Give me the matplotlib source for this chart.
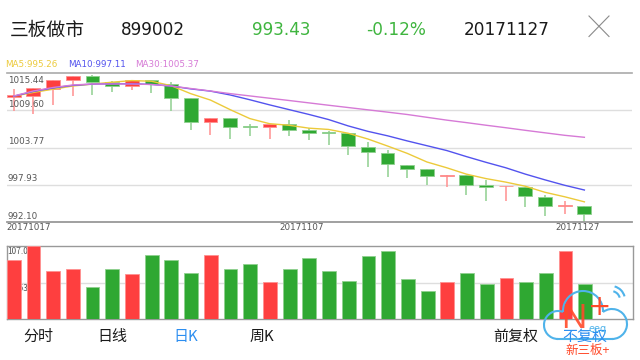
import matplotlib.pyplot as plt
from matplotlib.patches import Arc
import numpy as np

plt.rcParams['font.family'] = ['DejaVu Sans']
CJK = ['Noto Sans CJK SC', 'DejaVu Sans']

# 数据
dates = ['20171017', '20171018', '20171019', '20171020', '20171023', '20171024',
         '20171025', '20171026', '20171027', '20171030', '20171031', '20171101',
         '20171102', '20171103', '20171106', '20171107', '20171108', '20171109',
         '20171110', '20171113', '20171114', '20171115', '20171116', '20171117',
         '20171120', '20171121', '20171122', '20171123', '20171124', '20171127']
opens = [1011.73, 1011.84, 1013.01, 1014.34, 1015.02, 1013.98, 1013.40, 1014.30,
         1013.79, 1011.57, 1007.76, 1008.34, 1007.00, 1006.93, 1007.40, 1006.56,
         1006.10, 1005.99, 1003.89, 1002.95, 1001.02, 1000.35, 999.38, 999.46,
         997.89, 997.69, 997.62, 996.01, 994.58, 994.65]
closes = [1011.99, 1013.04, 1014.34, 1015.02, 1013.98, 1013.40, 1014.42, 1013.78,
          1011.57, 1007.73, 1008.34, 1006.98, 1006.97, 1007.40, 1006.56, 1006.08,
          1006.06, 1003.95, 1003.01, 1001.13, 1000.40, 999.30, 999.46, 997.94,
          997.62, 997.73, 996.12, 994.65, 994.62, 993.43]
highs = [1012.89, 1013.04, 1014.34, 1015.02, 1015.20, 1014.11, 1014.42, 1014.30,
         1014.00, 1011.57, 1008.34, 1008.34, 1007.40, 1007.40, 1008.03, 1006.77,
         1006.40, 1005.99, 1004.63, 1003.37, 1001.02, 1000.35, 999.46, 999.46,
         998.67, 997.73, 997.62, 996.32, 995.43, 994.65]
lows = [1009.56, 1009.09, 1010.38, 1011.76, 1011.99, 1012.49, 1012.85, 1012.26,
        1009.53, 1006.51, 1005.72, 1005.05, 1005.61, 1005.05, 1005.61, 1004.94,
        1004.11, 1002.54, 1000.76, 999.19, 998.94, 997.89, 997.62, 996.32,
        995.43, 995.43, 994.40, 993.08, 993.35, 992.14]
ma5 = [1011.8, 1012.4, 1012.9, 1013.4, 1013.7, 1014.0, 1014.25, 1014.15, 1013.45,
       1012.2, 1011.2, 1009.7, 1008.3, 1007.5, 1007.25, 1006.8, 1006.6, 1006.0,
       1005.1, 1004.0, 1002.85, 1001.5, 1000.6, 999.6, 998.9, 998.35, 997.7,
       996.75, 996.05, 995.26]
ma10 = [1011.8, 1012.55, 1013.1, 1013.5, 1013.7, 1013.75, 1013.75, 1013.65, 1013.4,
        1012.95, 1012.6, 1012.0, 1011.25, 1010.45, 1009.7, 1008.95, 1008.15, 1007.15,
        1006.3, 1005.6, 1004.8, 1004.05, 1003.3, 1002.35, 1001.45, 1000.6, 999.6,
        998.7, 997.85, 997.11]
ma30 = [1011.84, 1012.62, 1013.17, 1013.56, 1013.72, 1013.72, 1013.72, 1013.64,
        1013.40, 1013.01, 1012.62, 1012.21, 1011.85, 1011.49, 1011.13, 1010.76,
        1010.39, 1010.03, 1009.67, 1009.31, 1008.94, 1008.50, 1008.06, 1007.67,
        1007.26, 1006.87, 1006.46, 1006.07, 1005.68, 1005.37]
volume = [85.8, 107.06, 70.3, 73.6, 47.4, 73.2, 66.3, 93.5, 86.7, 66.9, 94.5, 72.7,
          80.0, 54.7, 73.2, 89.2, 69.8, 55.7, 93.1, 99.8, 59.0, 41.2, 54.7, 67.3,
          50.9, 59.6, 54.3, 67.8, 99.8, 50.9]
price_ticks = [992.10, 997.93, 1003.77, 1009.60, 1015.44]
vol_ticks = [53.53, 107.06]
date_label_idx = [0, 15, 29]

RED, RED_L = '#fe3f3f', '#ff9090'
GREEN, GREEN_L = '#2fa832', '#8fd08f'
GRAY = '#555555'

W, H = 640, 360
fig = plt.figure(figsize=(6.4, 3.6), dpi=100)


def box(x0, y0, x1, y1):
    # 像素坐标(从上往下) -> figure 坐标
    return [x0 / W, 1 - y1 / H, (x1 - x0) / W, (y1 - y0) / H]


ax = fig.add_axes(box(7, 73, 632, 222))
vx = fig.add_axes(box(7, 246, 633, 319))

x = np.arange(len(dates))
o = np.array(opens)
c = np.array(closes)
up = c >= o
col = np.where(up, RED, GREEN)
col_l = np.where(up, RED_L, GREEN_L)

# K线
ax.vlines(x, lows, highs, colors=col_l, lw=1.1, zorder=2)
body = np.maximum(np.abs(c - o), 0.12)
ax.bar(x, body, bottom=np.minimum(o, c), width=0.7, color=col,
       edgecolor=col_l, linewidth=0.6, zorder=3)

# 均线
ax.plot(x, ma5, color='#ecca3a', lw=1, zorder=4)
ax.plot(x, ma10, color='#5353ee', lw=1, zorder=4)
ax.plot(x, ma30, color='#d67ad6', lw=1, zorder=4)

ax.set_xlim(-0.34, 31.42)
ax.set_ylim(price_ticks[0], price_ticks[-1])
ax.set_yticks(price_ticks[1:-1])
ax.set_xticks([])
ax.grid(axis='y', color='#dedede', lw=1, zorder=0)
ax.tick_params(length=0, labelleft=False)
for s in ['left', 'right']:
    ax.spines[s].set_visible(False)
ax.spines['top'].set_color('#aaaaaa')
ax.spines['top'].set_linewidth(1.2)
ax.spines['bottom'].set_color('#999999')
ax.spines['bottom'].set_linewidth(1.3)

for v in price_ticks:
    dy = -2 if v == price_ticks[-1] else 1
    ax.annotate(f'{v:.2f}', xy=(0, v), xycoords=ax.get_yaxis_transform(),
                xytext=(0.5, dy), textcoords='offset points', fontsize=6.3,
                color=GRAY, va='top' if dy < 0 else 'bottom', ha='left')

for i in date_label_idx:
    ax.annotate(dates[i], xy=(i - 0.35, price_ticks[0]), xycoords='data',
                xytext=(0, -1), textcoords='offset points', fontsize=6.3,
                color=GRAY, va='top', ha='left' if i == 0 else 'center',
                annotation_clip=False)

# 成交量
vx.bar(x, volume, width=0.7, color=col, edgecolor=col_l, linewidth=0.6, zorder=3)
vx.set_xlim(-0.34, 31.42)
vx.set_ylim(0, vol_ticks[-1])
vx.set_xticks([])
vx.set_yticks([])
vx.axhline(vol_ticks[0], color='#dedede', lw=1, zorder=1)
for s in vx.spines.values():
    s.set_color('#999999')
    s.set_linewidth(1)
for v in vol_ticks:
    vx.annotate(f'{v:.2f}万', xy=(0, v), xycoords=vx.get_yaxis_transform(),
                xytext=(0.5, -1), textcoords='offset points', fontsize=6,
                color=GRAY, va='top', ha='left', family=CJK, zorder=2)

fig.text(5 / W, 1 - 64.7 / H, 'MA5:995.26', color='#ecca3a', fontsize=6.3, va='center')
fig.text(68 / W, 1 - 64.7 / H, 'MA10:997.11', color='#5353ee', fontsize=6.3, va='center')
fig.text(135 / W, 1 - 64.7 / H, 'MA30:1005.37', color='#d67ad6', fontsize=6.3, va='center')

# 顶部和底部的文字、图标
ov = fig.add_axes([0, 0, 1, 1])
ov.set_xlim(0, W)
ov.set_ylim(0, H)
ov.axis('off')
ov.set_zorder(5)

hy = H - 30
ov.text(10, hy, '三板做市', fontsize=13.5, family=CJK, color='#1a1a1a', va='center')
ov.text(121, hy, '899002', fontsize=12.2, color='#1a1a1a', va='center')
ov.text(252, hy, '993.43', fontsize=12.2, color='#3fb53f', va='center')
ov.text(366, hy, '-0.12%', fontsize=12.2, color='#3fb53f', va='center')
ov.text(464, hy, '20171127', fontsize=12.2, color='#1a1a1a', va='center')
ov.plot([589, 609], [H - 16, H - 36.5], color='#8a8a8a', lw=0.8)
ov.plot([589, 609], [H - 36.5, H - 16], color='#8a8a8a', lw=0.8)

ty = H - 336.5
tabs = [('分时', 38, '#1a1a1a'), ('日线', 112, '#1a1a1a'), ('日K', 186, '#2c8ef0'),
        ('周K', 262, '#1a1a1a'), ('前复权', 516, '#1a1a1a'), ('不复权', 585, '#2c8ef0')]
for t, tx, tc in tabs:
    ov.text(tx, ty, t, fontsize=10.8, family=CJK, color=tc, ha='center', va='center')

# 水印 logo
blue = '#4fb3ea'
ov.add_patch(Arc((558, 35), 28, 28, theta1=69, theta2=270, color=blue, lw=1.5))
ov.add_patch(Arc((583, 49), 40, 40, theta1=-2.9, theta2=182.7, color=blue, lw=1.5))
ov.add_patch(Arc((612, 36), 30, 30, theta1=-90, theta2=126.9, color=blue, lw=1.5))
ov.plot([558, 612], [21, 21], color=blue, lw=1.5)
ov.add_patch(Arc((611, 60), 18, 18, theta1=15, theta2=75, color=blue, lw=1.5))
ov.add_patch(Arc((611, 60), 28, 28, theta1=15, theta2=75, color=blue, lw=1.5))
ov.text(574, 42, 'N', fontsize=25, family='Liberation Sans', color='#ff4a2a',
        ha='center', va='center', alpha=0.9)
ov.text(600, 53, '+', fontsize=20, color='#ff4a2a', ha='center', va='center')
ov.text(598, 31, 'eeq', fontsize=7, color=blue, ha='center', va='center')
ov.text(588, 10, '新三板+', fontsize=9, family=CJK, color='#ff4a2a', ha='center', va='center')

fig.savefig('out.png', dpi=100)
